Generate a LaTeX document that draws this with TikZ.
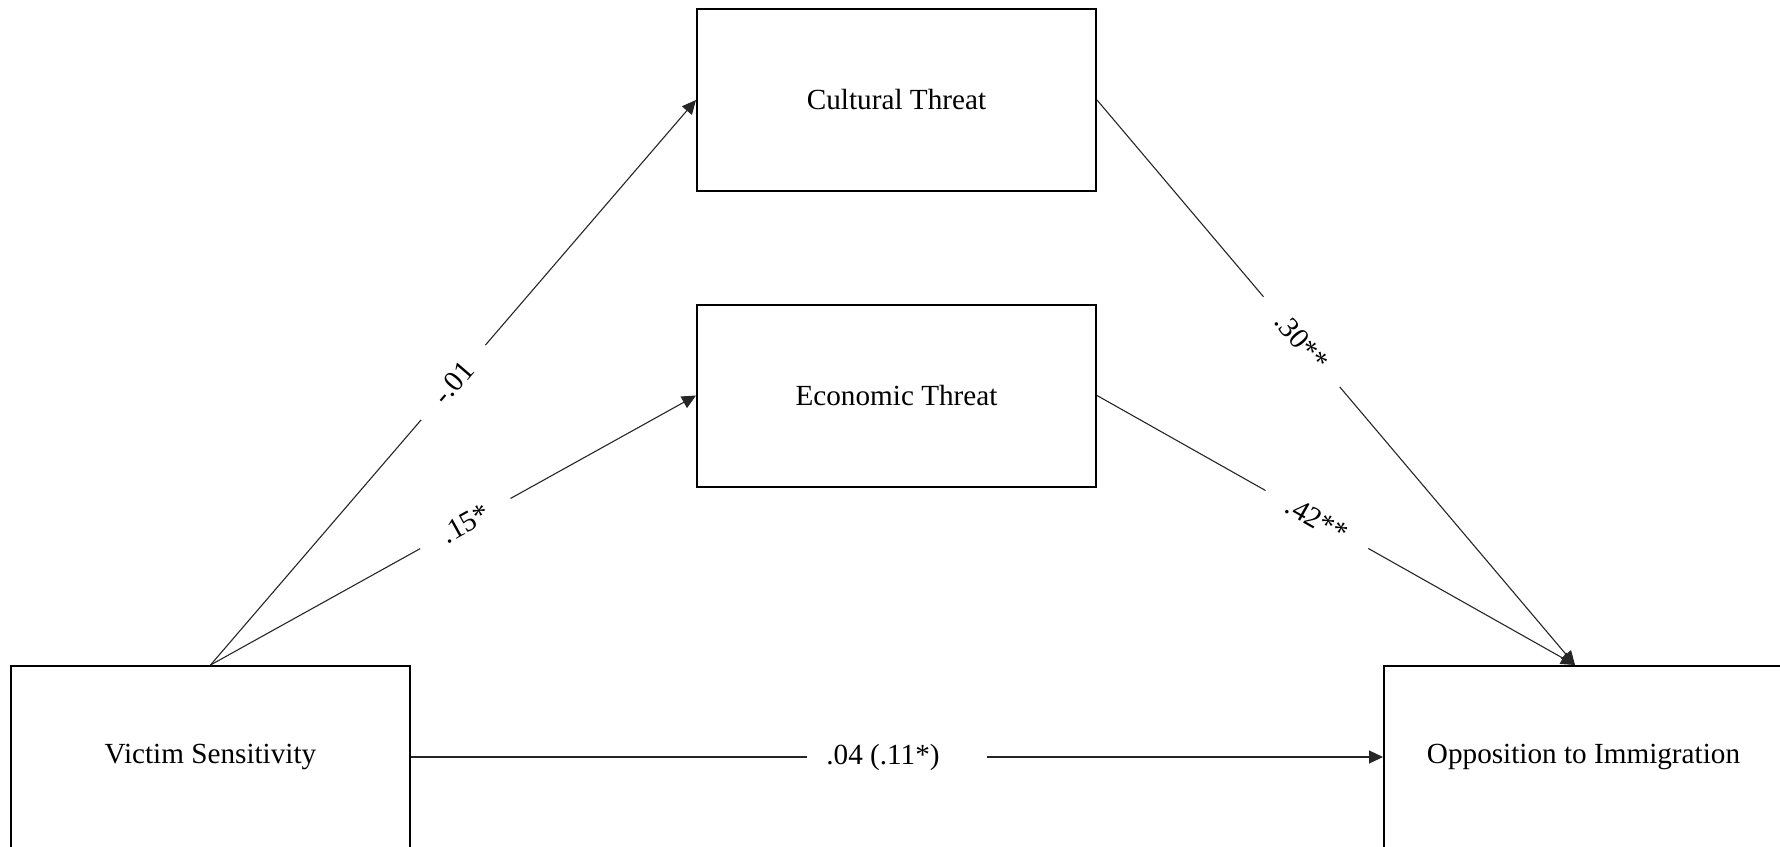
\documentclass[tikz,border=0pt]{standalone}
\usepackage{fontspec}
\setmainfont{Liberation Serif}
\usetikzlibrary{arrows.meta}

\begin{document}
\begin{tikzpicture}[
  x=0.5pt, y=-0.5pt,
  varbox/.style={draw=black, line width=1pt, fill=white,
    minimum width=199.5pt, minimum height=91pt, inner sep=0pt,
    font=\fontsize{14.6}{17}\selectfont},
  conn/.style={draw=black!85, line width=0.55pt},
  arr/.style={conn, -{Triangle[length=7pt,width=6.5pt]}},
  coef/.style={fill=white, inner xsep=13pt, inner ysep=3pt,
    font=\fontsize{14.6}{17}\selectfont},
]
\useasboundingbox (0,0) rectangle (1780,846);

% variables
\node[varbox] (cult) at (896.5,100)   {Cultural Threat};
\node[varbox] (econ) at (896.5,395.5) {Economic Threat};
\node[varbox] (vic)  at (210.5,757)  {Victim Sensitivity};
\node[varbox] (opp)  at (1583.5,757) {Opposition to Immigration};

% a paths
\draw[arr] (vic.north) -- node[coef, sloped, pos=0.5] (a1) {-.01} (cult.west);
\draw[arr] (vic.north) -- node[coef, sloped, pos=0.525] (a2) {.15*} (econ.west);

% b paths
\draw[arr] (cult.east) -- node[coef, sloped, pos=0.428] (b1) {.30**} ([xshift=-4.25pt]opp.north);
\draw[arr] (econ.east) -- node[coef, sloped, pos=0.46] (b2) {.42**} ([xshift=-4.25pt]opp.north);

% direct path, label sitting left of centre in its gap
\draw[arr] (vic.east) -- node[coef, inner xsep=9.5pt, pos=0.5] (c) {.04 (.11*)\kern14pt\relax} (opp.west);
\end{tikzpicture}
\end{document}
